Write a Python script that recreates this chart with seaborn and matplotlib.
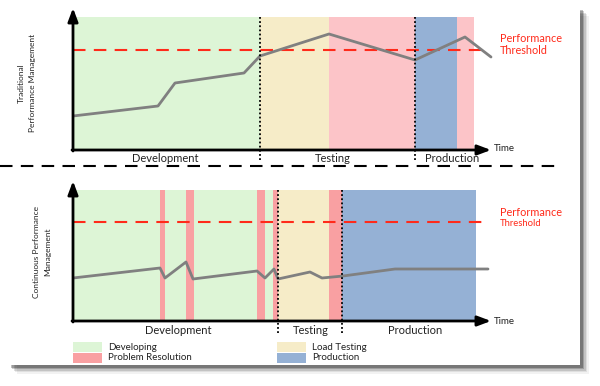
import numpy as np
import pandas as pd
import matplotlib
matplotlib.use("Agg")
import matplotlib.pyplot as plt
from matplotlib.patches import Rectangle
import seaborn as sns

sns.set_style("white")
plt.rcParams['font.family'] = ['Lato', 'DejaVu Sans']

# --- data (time units along x, performance units along y) ---
# traditional process
trad_t = [0, 85, 102, 171, 187, 256, 342, 392, 418]
trad_perf = [34, 44, 67, 77, 94, 116, 90, 113, 93]
trad_phase_start = [0, 187, 256, 342, 384]
trad_phase_end = [187, 256, 342, 384, 401]
trad_phase_kind = ['Developing', 'Load Testing', 'Problem Resolution', 'Production', 'Problem Resolution']
trad_milestones = [187, 342]
trad_stage_names = ['Development', 'Testing', 'Production']
trad_stage_centers = [92, 260, 379]
trad_threshold = 100

# continuous process
cont_t = [0, 87, 92, 113, 120, 184, 192, 201, 205, 237, 249, 270, 322, 415]
cont_perf = [43, 53, 43, 59, 42, 50, 43, 52, 42, 49, 43, 45, 52, 52]
cont_phase_start = [0, 87, 113, 184, 200, 205, 256, 269]
cont_phase_end = [205, 92, 121, 192, 205, 256, 269, 403]
cont_phase_kind = ['Developing', 'Problem Resolution', 'Problem Resolution', 'Problem Resolution',
                   'Problem Resolution', 'Load Testing', 'Problem Resolution', 'Production']
cont_milestones = [205, 269]
cont_stage_names = ['Development', 'Testing', 'Production']
cont_stage_centers = [105, 238, 342]
cont_threshold = 99

legend_labels = ['Developing', 'Problem Resolution', 'Load Testing', 'Production']

colors_top = {'Developing': '#ddf5d6', 'Load Testing': '#f6ecc8',
              'Problem Resolution': '#fcc4c8', 'Production': '#95b1d5'}
colors_bottom = {'Developing': '#ddf5d6', 'Load Testing': '#f6ecc8',
                 'Problem Resolution': '#f9a0a2', 'Production': '#95b1d5'}

W, H = 600, 386
fig = plt.figure(figsize=(6, 3.86), dpi=100)
fig.patch.set_facecolor('white')


def fx(px):
    return px / W


def fy(py):
    return 1 - py / H


# card with soft shadow
for i, a in enumerate([0.05, 0.08, 0.12, 0.18, 0.25]):
    off = 9 - i * 1.6
    fig.patches.append(Rectangle((fx(8 + off), fy(365 + off)), fx(572), 358 / H,
                                 transform=fig.transFigure, color='black', alpha=a,
                                 lw=0, zorder=-3))
fig.patches.append(Rectangle((fx(8), fy(365)), fx(572), 358 / H,
                             transform=fig.transFigure, color='white', lw=0, zorder=-2))


def draw_panel(ax, t, perf, starts, ends, kinds, colors, top, miles, names, centers,
               threshold, thr_end, label_y, mile_bottom, time_y, big_thr):
    ax.set_xlim(0, 420)
    ax.set_ylim(0, top)
    ax.patch.set_alpha(0)
    for s, e, k in zip(starts, ends, kinds):
        ax.axvspan(s, e, color=colors[k], lw=0, zorder=1)
    df = pd.DataFrame({'t': t, 'perf': perf})
    sns.lineplot(data=df, x='t', y='perf', ax=ax, color='#808080', lw=2,
                 estimator=None, sort=False, zorder=4)
    ax.plot([0, thr_end], [threshold, threshold], color='#ff2a1a', lw=1.5,
            dashes=(6, 4), zorder=3, clip_on=False)
    for m in miles:
        ax.plot([m, m], [mile_bottom, top], color='black', lw=1.3, ls=(0, (1, 1.3)),
                zorder=5, clip_on=False)
    for n, c in zip(names, centers):
        ax.text(c, label_y, n, ha='center', va='center', fontsize=8, color='#222222')
    ax.annotate('', xy=(418, 0), xytext=(-1, 0), annotation_clip=False,
                arrowprops=dict(arrowstyle='-|>,head_length=0.8,head_width=0.3',
                                color='black', lw=2, shrinkA=0, shrinkB=0), zorder=6)
    ax.annotate('', xy=(0, top + 9), xytext=(0, -1), annotation_clip=False,
                arrowprops=dict(arrowstyle='-|>,head_length=0.8,head_width=0.3',
                                color='black', lw=2, shrinkA=0, shrinkB=0), zorder=6)
    ax.text(421, time_y, 'Time', fontsize=7, ha='left', va='center', color='#222222')
    if big_thr:
        ax.text(427, threshold + 11, 'Performance', color='#ff2a1a', fontsize=7.8, va='center')
        ax.text(427, threshold - 1, 'Threshold', color='#ff2a1a', fontsize=7.8, va='center')
    else:
        ax.text(427, threshold + 9, 'Performance', color='#ff2a1a', fontsize=7.8, va='center')
        ax.text(427, threshold - 2, 'Threshold', color='#ff2a1a', fontsize=6.8, va='center')
    ax.set_xlabel('')
    ax.set_ylabel('')
    ax.set_xticks([])
    ax.set_yticks([])
    sns.despine(ax=ax, left=True, bottom=True)


ax1 = fig.add_axes([fx(73), fy(150), fx(420), 133 / H])
draw_panel(ax1, trad_t, trad_perf, trad_phase_start, trad_phase_end, trad_phase_kind,
           colors_top, 133, trad_milestones, trad_stage_names, trad_stage_centers,
           trad_threshold, 412, -8, -10, 2, True)

ax2 = fig.add_axes([fx(73), fy(321), fx(420), 131 / H])
draw_panel(ax2, cont_t, cont_perf, cont_phase_start, cont_phase_end, cont_phase_kind,
           colors_bottom, 131, cont_milestones, cont_stage_names, cont_stage_centers,
           cont_threshold, 415, -9, -12, -1, False)

# y labels
fig.text(fx(27), fy(83), 'Traditional\nPerformance Management', rotation=90,
         ha='center', va='center', fontsize=6, linespacing=1.6, color='#222222')
fig.text(fx(42), fy(252), 'Continuous Performance\nManagement', rotation=90,
         ha='center', va='center', fontsize=6, linespacing=1.6, color='#222222')

# separator
fig.add_artist(plt.Line2D([fx(0), fx(556)], [fy(166), fy(166)], color='black', lw=1.5,
                          dashes=(6, 4), transform=fig.transFigure))

# legend
leg_pos = [(73, 342), (73, 353), (277, 342), (277, 353)]
for lab, (lx, ly) in zip(legend_labels, leg_pos):
    fig.patches.append(Rectangle((fx(lx), fy(ly + 10)), fx(29), 10 / H,
                                 transform=fig.transFigure, color=colors_bottom[lab], lw=0))
    fig.text(fx(lx + 35), fy(ly + 5), lab, fontsize=7, va='center', ha='left', color='#222222')

fig.savefig('out.png', dpi=100)
